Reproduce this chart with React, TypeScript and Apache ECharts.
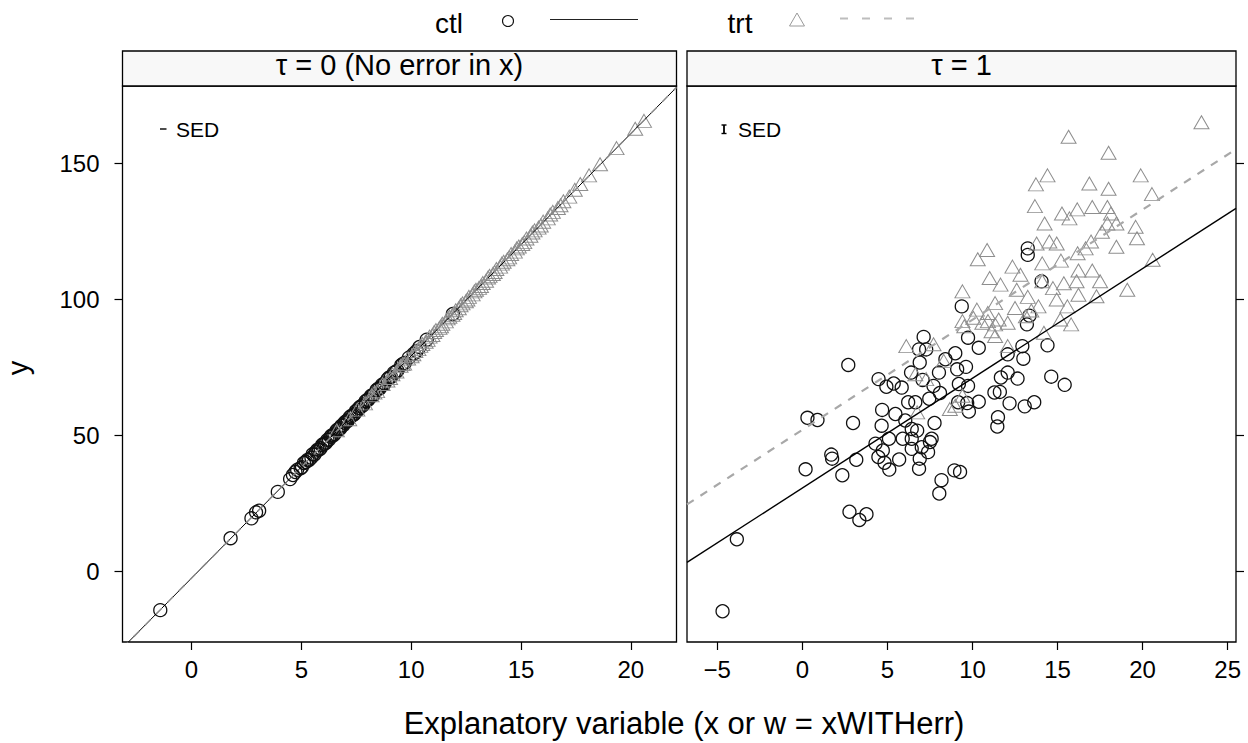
import React, { useEffect, useRef } from "react";
import * as echarts from "echarts";

// ---------- data ----------
const groups = ["ctl", "trt"];
const panelTitles = ["τ = 0 (No error in x)", "τ = 1"];
const xTitle = "Explanatory variable (x or w = xWITHerr)";
const yTitle = "y";
const leftXTicks = [0, 5, 10, 15, 20];
const rightXTicks = [-5, 0, 5, 10, 15, 20, 25];
const yTicks = [0, 50, 100, 150];

// left panel (tau = 0): x without error
const ctlLeft: number[][] = [
  [-1.42, -14.1], [1.78, 12.3], [2.73, 19.6], [2.94, 21.8], [3.08, 22.4], [3.93, 29.3],
  [4.49, 34.0], [4.73, 36.6], [4.81, 37.4], [4.97, 38.0], [5.12, 39.9], [5.21, 40.3],
  [5.35, 41.0], [5.52, 43.1], [5.6, 43.0], [5.74, 44.8], [5.88, 45.3], [5.95, 46.5],
  [6.07, 47.0], [6.19, 48.4], [6.26, 48.5], [6.38, 50.0], [6.51, 50.5], [6.6, 51.8],
  [6.72, 52.2], [6.83, 53.6], [6.91, 53.8], [7.04, 55.3], [7.13, 55.6], [7.27, 57.2],
  [7.36, 57.5], [7.49, 59.0], [7.58, 59.3], [7.7, 60.7], [7.84, 61.4], [7.93, 62.6],
  [8.05, 63.1], [8.18, 64.6], [8.29, 65.0], [8.43, 66.7], [8.56, 67.2], [8.68, 68.7],
  [8.79, 69.1], [8.93, 70.7], [9.08, 71.5], [9.22, 73.1], [9.37, 73.8], [9.55, 75.8],
  [9.71, 76.6], [9.9, 78.6], [10.12, 80.0], [10.38, 82.5], [10.71, 85.2], [11.9, 94.6],
  [4.62, 35.5], [5.03, 38.4], [5.28, 41.0], [5.46, 41.9], [5.67, 44.1], [5.81, 44.8],
  [6.01, 46.9], [6.13, 47.4], [6.33, 49.5], [6.45, 50.0], [6.67, 52.3], [6.78, 52.7],
  [6.97, 54.7], [7.09, 55.2], [7.21, 56.7], [7.42, 57.9], [7.63, 60.1], [7.77, 60.8],
  [8.0, 63.1], [8.24, 64.6], [8.5, 67.2], [8.73, 68.6], [9.0, 71.3], [9.3, 73.2],
  [9.62, 76.3], [10.25, 81.0],
];
const trtLeft: number[][] = [
  [6.62, 51.9], [7.18, 56.0], [7.55, 59.5], [7.9, 61.8], [8.2, 64.8], [8.45, 66.3],
  [8.7, 68.9], [8.92, 70.2], [9.15, 72.5], [9.33, 73.5], [9.52, 75.6], [9.68, 76.4],
  [9.86, 78.3], [10.02, 79.1], [10.19, 81.0], [10.33, 81.7], [10.51, 83.6], [10.66, 84.4],
  [10.84, 86.3], [10.97, 86.9], [11.13, 88.7], [11.29, 89.5], [11.42, 91.0], [11.58, 91.9],
  [11.74, 93.6], [11.88, 94.3], [12.03, 96.0], [12.17, 96.7], [12.34, 98.5], [12.49, 99.3],
  [12.63, 100.9], [12.8, 101.8], [12.95, 103.5], [13.09, 104.2], [13.26, 106.0], [13.41, 106.8],
  [13.57, 108.6], [13.72, 109.3], [13.88, 111.1], [14.05, 112.0], [14.21, 113.8], [14.38, 114.7],
  [14.55, 116.6], [14.72, 117.5], [14.9, 119.4], [15.06, 120.3], [15.25, 122.3], [15.43, 123.3],
  [15.62, 125.3], [15.8, 126.3], [16.01, 128.5], [16.22, 129.7], [16.45, 132.1], [16.68, 133.5],
  [16.93, 136.0], [17.2, 137.7], [17.7, 142.3], [18.1, 145.5], [19.35, 155.5], [20.2, 162.6],
  [20.6, 165.5],
  [8.33, 65.8], [9.04, 71.1], [9.61, 76.2], [10.1, 79.8], [10.42, 82.9], [10.75, 85.1],
  [11.05, 88.0], [11.36, 90.1], [11.66, 93.0], [11.96, 95.0], [12.25, 97.8], [12.56, 99.9],
  [12.88, 102.9], [13.18, 104.9], [13.5, 108.0], [13.8, 110.0], [14.13, 113.1], [14.46, 115.4],
  [14.81, 118.7], [15.15, 121.0], [15.52, 124.5], [15.9, 127.1], [16.33, 131.1], [16.8, 134.5],
  [17.45, 140.2], [18.6, 149.6],
];

// right panel (tau = 1): w = x with error
const ctlRight: number[][] = [
  [13.25, 118.7], [13.25, 116.3], [14.06, 106.6], [9.37, 97.4], [13.35, 94.0], [13.2, 90.8],
  [7.13, 86.2], [9.74, 85.9], [10.37, 82.2], [14.41, 83.1], [12.93, 82.8], [6.86, 81.6],
  [8.99, 80.2], [12.07, 79.8],
  [-4.69, -14.5], [-3.85, 11.9], [0.19, 37.6], [0.3, 56.5], [0.89, 55.7], [1.7, 43.0],
  [1.75, 41.5], [2.35, 35.4], [2.7, 75.9], [2.98, 54.6], [3.17, 41.1], [2.77, 22.0],
  [3.35, 19.0], [3.77, 21.1], [4.48, 70.7], [4.94, 67.9], [5.37, 69.1], [5.84, 67.6],
  [4.69, 59.4], [5.47, 57.9], [4.66, 53.6], [5.09, 48.8], [4.3, 47.0], [4.73, 44.5],
  [4.47, 42.1], [4.83, 40.0], [5.11, 37.5], [5.69, 41.2], [5.9, 48.8], [6.05, 55.5],
  [6.22, 62.2], [6.64, 62.2], [6.39, 73.1], [6.9, 76.8], [7.28, 81.6], [7.07, 70.4],
  [7.46, 63.5], [7.71, 68.2], [8.09, 65.6], [8.03, 73.1], [8.41, 78.0], [9.1, 74.3],
  [9.62, 75.2], [9.2, 68.9], [9.74, 68.2], [9.16, 62.2], [9.69, 61.9], [9.79, 58.8],
  [10.37, 62.4], [6.43, 52.4], [6.75, 51.8], [6.43, 48.8], [6.43, 45.1], [7.02, 45.7],
  [7.39, 43.9], [7.6, 48.8], [7.77, 54.6], [6.9, 41.5], [6.86, 37.8], [7.5, 47.6],
  [8.18, 33.6], [8.05, 28.7], [8.94, 37.2], [9.27, 36.6], [11.29, 65.8], [11.61, 66.0],
  [11.67, 71.3], [12.07, 73.1], [12.65, 70.9], [11.5, 56.7], [11.46, 53.3], [12.18, 61.8],
  [13.07, 60.7], [13.63, 62.2], [12.99, 78.2], [14.63, 71.6], [15.42, 68.6],
];
const trtRight: number[][] = [
  [23.46, 165.0], [15.65, 159.7], [18.0, 153.8], [14.41, 145.5], [13.73, 142.2], [16.87, 142.5],
  [18.0, 140.6], [19.89, 145.5], [20.55, 138.6], [13.67, 134.2], [15.26, 131.5], [15.7, 129.7],
  [16.16, 133.0], [17.04, 133.9], [17.93, 133.9], [18.14, 131.5], [14.24, 127.8], [17.93, 127.8],
  [18.46, 127.8], [19.59, 126.6], [19.67, 122.4], [17.61, 124.8], [18.46, 119.3], [20.59, 114.5],
  [19.1, 103.5], [10.86, 118.1], [10.31, 114.7], [13.77, 120.5], [14.52, 121.2], [14.95, 120.5],
  [16.18, 116.9], [16.65, 118.7], [16.97, 121.2], [14.1, 113.2], [15.2, 114.2], [12.35, 112.0],
  [12.82, 109.0], [14.1, 106.6], [14.73, 104.1], [15.37, 105.9], [16.23, 110.6], [17.04, 110.6],
  [16.12, 106.6], [17.5, 106.6], [17.29, 101.1], [16.23, 101.7], [15.58, 97.4], [11.01, 107.8],
  [11.65, 105.4], [9.41, 102.9], [10.26, 96.2], [10.9, 95.0], [11.33, 98.6], [10.58, 91.4],
  [11.33, 90.8], [9.52, 90.1], [12.6, 103.5], [13.25, 100.9], [12.5, 96.8], [13.14, 93.8],
  [15.16, 92.6], [15.8, 90.8], [14.2, 87.7], [11.33, 86.5], [12.07, 82.8], [6.11, 82.8],
  [13.88, 97.4], [14.95, 99.9], [7.71, 83.5], [8.31, 77.4], [8.99, 60.9], [8.67, 59.7],
  [9.41, 64.6], [6.64, 72.5], [7.28, 70.7], [6.75, 58.5], [9.41, 92.0], [10.05, 93.2],
  [10.91, 92.0], [11.54, 92.6], [12.07, 91.4], [11.12, 88.3], [13.46, 95.9],
];

// fitted regression lines (end points at the panel edges)
const ctlFitLeft: number[][] = [[-3.14, -28.0], [22.08, 177.8]];
const trtFitLeft: number[][] = [[-3.14, -28.0], [22.08, 177.8]];
const ctlFitRight: number[][] = [[-6.78, 3.4], [25.49, 133.4]];
const trtFitRight: number[][] = [[-6.78, 24.7], [25.49, 155.1]];

// ---------- layout ----------
const FONT = "'Liberation Sans', Arial, Helvetica, sans-serif";
const L = { left: 122.5, top: 86, width: 554, height: 556 };
const R = { left: 687, top: 86, width: 549, height: 556 };
const STRIP_TOP = 51;
const Y_MIN = -25.8;
const Y_MAX = 178.3;

const fmt = (v: number) => (v < 0 ? "\u2212" + Math.abs(v) : String(v));

function xAxisCfg(gi: number, min: number, max: number, ticks: number[]) {
  return {
    type: "value",
    gridIndex: gi,
    position: "bottom",
    min,
    max,
    splitLine: { show: false },
    axisLine: { show: false, onZero: false },
    axisTick: { show: true, inside: false, length: 8, lineStyle: { color: "#000", width: 1.2 }, customValues: ticks },
    axisLabel: { show: true, customValues: ticks, color: "#000", fontSize: 24, fontFamily: FONT, margin: 15, formatter: fmt },
  };
}
function yAxisCfg(gi: number, pos: string, labels: boolean) {
  return {
    type: "value",
    gridIndex: gi,
    position: pos,
    min: Y_MIN,
    max: Y_MAX,
    splitLine: { show: false },
    axisLine: { show: false, onZero: false },
    axisTick: { show: true, inside: false, length: 8, lineStyle: { color: "#000", width: 1.2 }, customValues: yTicks },
    axisLabel: { show: labels, customValues: yTicks, color: "#000", fontSize: 24, fontFamily: FONT, margin: 23, formatter: fmt },
  };
}

function pointSeries(data: number[][], gi: number, group: string) {
  const isCtl = group === "ctl";
  return {
    type: "scatter",
    name: group,
    xAxisIndex: gi,
    yAxisIndex: gi,
    data,
    symbol: isCtl ? "circle" : "triangle",
    symbolSize: isCtl ? 13 : [15, 13],
    silent: true,
    z: 2,
    itemStyle: {
      color: "rgba(0,0,0,0)",
      borderColor: isCtl ? "#111" : "#8e8e8e",
      borderWidth: isCtl ? 1.3 : 1,
      opacity: 1,
    },
  };
}
function fitSeries(data: number[][], gi: number, group: string, right: boolean) {
  const isCtl = group === "ctl";
  return {
    type: "line",
    name: group + " fit",
    xAxisIndex: gi,
    yAxisIndex: gi,
    data,
    showSymbol: false,
    symbol: "none",
    clip: true,
    silent: true,
    z: 3,
    lineStyle: isCtl
      ? { color: "#000", width: right ? 1.4 : 1 }
      : { color: right ? "#a8a8a8" : "#8a8a8a", width: right ? 2.2 : 1.5, type: [8, 8] },
  };
}

function text(x: number, y: number, t: string, size: number, align = "center", extra: any = {}) {
  return {
    type: "text",
    x,
    y,
    ...extra,
    style: {
      text: t,
      fontSize: size,
      fontFamily: FONT,
      fill: "#000",
      textAlign: align,
      align,
      textVerticalAlign: "middle",
      verticalAlign: "middle",
    },
  };
}

export default function App() {
  const ref = useRef<HTMLDivElement>(null);
  useEffect(() => {
    if (!ref.current) return;
    const chart = echarts.init(ref.current, null, { renderer: "svg" });
    const stripH = L.top - STRIP_TOP;
    const option: any = {
      animation: false,
      backgroundColor: "#fff",
      grid: [
        { ...L, show: true, borderColor: "#000", borderWidth: 1.3, backgroundColor: "rgba(0,0,0,0)", containLabel: false, outerBoundsMode: "none" },
        { ...R, show: true, borderColor: "#000", borderWidth: 1.3, backgroundColor: "rgba(0,0,0,0)", containLabel: false, outerBoundsMode: "none" },
      ],
      xAxis: [xAxisCfg(0, -3.14, 22.08, leftXTicks), xAxisCfg(1, -6.78, 25.49, rightXTicks)],
      yAxis: [yAxisCfg(0, "left", true), yAxisCfg(1, "right", false)],
      series: [
        pointSeries(ctlLeft, 0, groups[0]),
        fitSeries(ctlFitLeft, 0, groups[0], false),
        pointSeries(trtLeft, 0, groups[1]),
        fitSeries(trtFitLeft, 0, groups[1], false),
        pointSeries(ctlRight, 1, groups[0]),
        fitSeries(ctlFitRight, 1, groups[0], true),
        pointSeries(trtRight, 1, groups[1]),
        fitSeries(trtFitRight, 1, groups[1], true),
      ],
      graphic: [
        // strips
        { type: "rect", shape: { x: L.left, y: STRIP_TOP, width: L.width, height: stripH }, style: { fill: "#f8f8f8", stroke: "#000", lineWidth: 1.3 } },
        { type: "rect", shape: { x: R.left, y: STRIP_TOP, width: R.width, height: stripH }, style: { fill: "#f8f8f8", stroke: "#000", lineWidth: 1.3 } },
        text(L.left + L.width / 2, 65, panelTitles[0], 29),
        text(R.left + R.width / 2, 65, panelTitles[1], 29),
        // legend
        text(449, 23, groups[0], 28),
        { type: "circle", shape: { cx: 508, cy: 21, r: 5.5 }, style: { fill: "none", stroke: "#111", lineWidth: 1.1 } },
        { type: "line", shape: { x1: 550, y1: 19.5, x2: 638, y2: 19.5 }, style: { stroke: "#222", lineWidth: 1 } },
        text(740, 23, groups[1], 28),
        { type: "polygon", shape: { points: [[797, 13], [789.5, 26], [804.5, 26]] }, style: { fill: "none", stroke: "#9a9a9a", lineWidth: 1 } },
        { type: "line", shape: { x1: 840, y1: 18.5, x2: 924, y2: 18.5 }, style: { stroke: "#bdbdbd", lineWidth: 2, lineDash: [8, 14] } },
        // SED markers
        { type: "line", shape: { x1: 160, y1: 129, x2: 166.5, y2: 129 }, style: { stroke: "#000", lineWidth: 1.4 } },
        text(176, 129.5, "SED", 21, "left"),
        { type: "line", shape: { x1: 724, y1: 125, x2: 724, y2: 133.5 }, style: { stroke: "#000", lineWidth: 1.8 } },
        { type: "line", shape: { x1: 721.5, y1: 125, x2: 726.5, y2: 125 }, style: { stroke: "#000", lineWidth: 1.4 } },
        { type: "line", shape: { x1: 721.5, y1: 133.5, x2: 726.5, y2: 133.5 }, style: { stroke: "#000", lineWidth: 1.4 } },
        text(738, 129.5, "SED", 21, "left"),
        // axis titles
        text(684, 723, xTitle, 31),
        text(18, 368, yTitle, 29, "center", { rotation: Math.PI / 2 }),
      ],
    };
    chart.setOption(option);
    return () => chart.dispose();
  }, []);
  return (
    <div
      ref={ref}
      style={{ position: "fixed", left: 0, top: 0, width: 1248, height: 743, background: "#fff" }}
    />
  );
}
